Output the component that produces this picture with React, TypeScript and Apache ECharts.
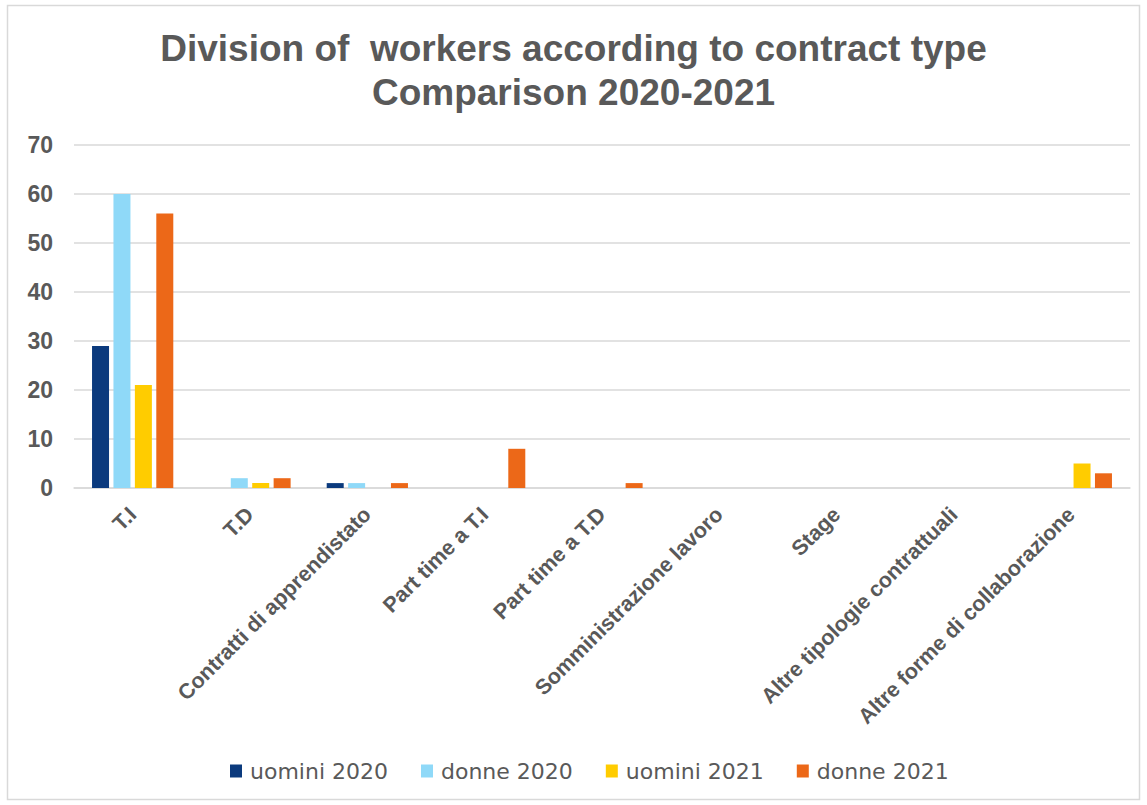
import React, { useEffect, useRef } from "react";
import * as echarts from "echarts";

const categories = [
  "T.I",
  "T.D",
  "Contratti di apprendistato",
  "Part time a T.I",
  "Part time a T.D",
  "Somministrazione lavoro",
  "Stage",
  "Altre tipologie contrattuali",
  "Altre forme di collaborazione",
];
const uomini2020 = [29, 0, 1, 0, 0, 0, 0, 0, 0];
const donne2020 = [60, 2, 1, 0, 0, 0, 0, 0, 0];
const uomini2021 = [21, 1, 0, 0, 0, 0, 0, 0, 5];
const donne2021 = [56, 2, 1, 8, 1, 0, 0, 0, 3];
const seriesNames = ["uomini 2020", "donne 2020", "uomini 2021", "donne 2021"];
const seriesColors = ["#0B3A7D", "#8FD9F8", "#FFCC00", "#EC6818"];
const yTicks = { min: 0, max: 70, interval: 10 };

export default function App() {
  const ref = useRef<HTMLDivElement>(null);
  useEffect(() => {
    const chart = echarts.init(ref.current!, null, { renderer: "svg" });
    const data = [uomini2020, donne2020, uomini2021, donne2021];
    chart.setOption({
      animation: false,
      backgroundColor: "#ffffff",
      textStyle: { fontFamily: "Liberation Sans, Arial, sans-serif" },
      title: {
        text: "Division of  workers according to contract type\nComparison 2020-2021",
        left: "center",
        top: 21,
        textStyle: {
          fontSize: 37,
          fontWeight: "bold",
          color: "#595959",
          lineHeight: 44,
          fontFamily: "Liberation Sans, Arial, sans-serif",
        },
      },
      graphic: [
        {
          type: "rect",
          shape: { x: 7.5, y: 5.5, width: 1132, height: 794 },
          style: { fill: "none", stroke: "#d9d9d9", lineWidth: 1.5 },
          silent: true,
        },
      ],
      legend: {
        top: 755,
        left: 225,
        itemWidth: 12,
        itemHeight: 13,
        itemGap: 33,
        icon: "rect",
        textStyle: {
          fontSize: 22,
          color: "#595959",
          padding: [0, 0, 0, 3],
          fontFamily: "DejaVu Sans, sans-serif",
        },
        data: seriesNames,
      },
      grid: { left: 74, right: 17, top: 145, bottom: 317, containLabel: false },
      xAxis: {
        type: "category",
        data: categories,
        axisLine: { show: true, lineStyle: { color: "#d9d9d9", width: 1.5 } },
        axisTick: { show: false },
        axisLabel: {
          interval: 0,
          rotate: 45,
          fontSize: 21.5,
          fontWeight: "bold",
          color: "#595959",
          margin: 23,
        },
      },
      yAxis: {
        type: "value",
        min: yTicks.min,
        max: yTicks.max,
        interval: yTicks.interval,
        axisLine: { show: false },
        axisTick: { show: false },
        splitLine: { lineStyle: { color: "#d9d9d9", width: 1.5 } },
        axisLabel: {
          fontSize: 23,
          fontWeight: "bold",
          color: "#595959",
          margin: 21,
        },
      },
      series: seriesNames.map((name, i) => ({
        name,
        type: "bar",
        data: data[i],
        barWidth: 17,
        barGap: "26%",
        itemStyle: { color: seriesColors[i] },
      })),
    });
    return () => chart.dispose();
  }, []);
  return (
    <div
      ref={ref}
      style={{ position: "absolute", left: 0, top: 0, width: 1147, height: 805 }}
    />
  );
}
